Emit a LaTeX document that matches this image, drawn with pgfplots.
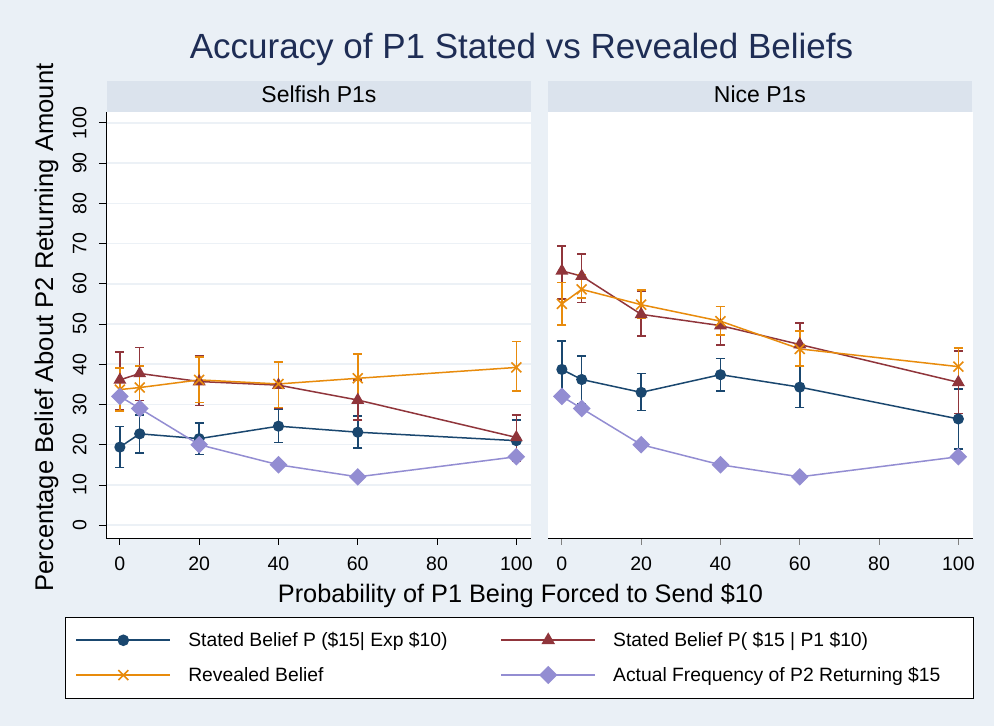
\documentclass[border=0pt]{standalone}
\usepackage{fontspec}
\setmainfont{Liberation Sans}
\usepackage{pgfplots}
\usepackage{pgfplotstable}
\pgfplotsset{compat=1.18}

\definecolor{bgcol}{RGB}{234,240,246}
\definecolor{stripcol}{RGB}{219,227,237}
\definecolor{gridcol}{RGB}{236,241,246}
\definecolor{snavy}{RGB}{26,71,111}
\definecolor{smaroon}{RGB}{144,53,59}
\definecolor{sorange}{RGB}{232,139,12}
\definecolor{slav}{RGB}{147,141,210}
\definecolor{titlecol}{RGB}{30,45,85}

% Selfish P1s
\pgfplotstableread{
x y lo hi
0 19.4 14.3 24.5
5 22.7 17.9 27.4
20 21.5 17.5 25.4
40 24.6 20.6 28.8
60 23.1 19.2 27.1
100 21.0 16.3 26.1
}\SnavyL
\pgfplotstableread{
x y lo hi
0 36.1 28.6 43.0
5 37.7 31.0 44.1
20 35.7 29.7 42.2
40 34.8 29.0 40.5
60 31.1 26.1 36.1
100 21.8 16.0 27.4
}\SmarL
\pgfplotstableread{
x y lo hi
0 33.7 28.4 39.1
5 34.2 29.4 39.6
20 36.1 30.5 41.8
40 35.1 29.2 40.6
60 36.5 30.6 42.5
100 39.2 33.3 45.7
}\SoraL
\pgfplotstableread{
x y
0 32
5 29
20 20
40 15
60 12
100 17
}\SlavL
% Nice P1s
\pgfplotstableread{
x y lo hi
0 38.7 31.8 45.8
5 36.2 30.1 42.0
20 33.0 28.5 37.7
40 37.4 33.3 41.4
60 34.3 29.2 39.4
100 26.4 18.9 33.8
}\SnavyR
\pgfplotstableread{
x y lo hi
0 63.2 56.2 69.4
5 61.9 55.3 67.4
20 52.4 47.0 58.2
40 49.6 44.8 54.4
60 44.9 39.6 50.2
100 35.5 27.7 43.3
}\SmarR
\pgfplotstableread{
x y lo hi
0 55.0 49.8 60.3
5 58.6 56.4 62.3
20 54.8 51.4 58.5
40 50.7 47.3 54.4
60 43.8 39.6 48.2
100 39.4 34.8 44.0
}\SoraR
\pgfplotstableread{
x y
0 32
5 29
20 20
40 15
60 12
100 17
}\SlavR

\pgfplotsset{
  panel/.style={
    scale only axis, width=425pt, height=426pt,
    xmin=-3.5, xmax=103.7, ymin=-3.2, ymax=102.7,
    axis background/.style={fill=white},
    xtick={0,20,40,60,80,100}, ytick={0,10,...,100},
    ymajorgrids, grid style={color=gridcol, line width=1.6pt},
    tick align=outside, major tick length=7pt,
    axis x line*=bottom,
    axis line style={line width=0.8pt, black, -},
    tick style={line width=0.8pt, black},
    /pgf/number format/assume math mode=true,
    tick label style={font=\fontsize{19.5}{22}\selectfont},
    xticklabel style={yshift=-8pt},
    yticklabel style={rotate=90, anchor=south, yshift=9pt},
    legend image code/.code={\draw[mark repeat=2,mark phase=2,#1,line width=1.9pt] plot coordinates {(0pt,0pt) (47pt,0pt) (94pt,0pt)};},
  },
  eb/.style={error bars/.cd, y dir=both, y explicit,
     error bar style={line width=1.5pt, solid, #1},
     error mark options={rotate=90, line width=1.5pt, mark size=4.5pt, #1}},
  snavyS/.style={color=snavy, line width=1.5pt, mark=*, mark size=4.8pt, mark options={solid, fill=snavy}},
  smarS/.style={color=smaroon, line width=1.5pt, mark=triangle*, mark size=6pt, mark options={solid, fill=smaroon}},
  soraS/.style={color=sorange, line width=1.5pt, mark=x, mark size=7pt, mark options={solid, line width=1.6pt}},
  slavS/.style={color=slav, line width=1.5pt, mark=square*, mark size=5.5pt, mark options={solid, fill=slav, rotate=45}},
}

\begin{document}
\begin{tikzpicture}[x=1pt,y=1pt]
\fill[bgcol] (0,0) rectangle (994,726);
\useasboundingbox (0,0) rectangle (994,726);
\fill[stripcol] (107,614) rectangle (531,645);
\fill[stripcol] (548,614) rectangle (972,645);
\node[anchor=base, font=\fontsize{23}{27}\selectfont] at (319,623) {Selfish P1s};
\node[anchor=base, font=\fontsize{23}{27}\selectfont] at (760,623) {Nice P1s};
\node[anchor=base, text=titlecol, font=\fontsize{35}{40}\selectfont] at (521.5,667) {Accuracy of P1 Stated vs Revealed Beliefs};
\node[rotate=90, anchor=base, font=\fontsize{25.6}{30}\selectfont] at (53,398.5) {Percentage Belief About P2 Returning Amount};
\node[anchor=base, font=\fontsize{25.3}{30}\selectfont] at (520.5,123) {Probability of P1 Being Forced to Send \$10};

\begin{axis}[panel, at={(106pt,188pt)}, anchor=south west, axis y line*=left,
  legend columns=2,
  legend style={at={(-0.0965,-0.1854)}, anchor=north west, draw=black, line width=0.8pt, fill=white,
    font=\fontsize{19.3}{22}\selectfont, inner xsep=10pt, inner ysep=13pt, row sep=15pt,
    /tikz/every odd column/.append style={column sep=15pt},
    /tikz/every even column/.append style={column sep=10pt}},
  legend cell align=left]
\addplot[snavyS, eb=snavy] table[x=x, y=y, y error plus expr=\thisrow{hi}-\thisrow{y}, y error minus expr=\thisrow{y}-\thisrow{lo}] {\SnavyL};
\addlegendentry{\makebox[300pt][l]{Stated Belief P (\$15| Exp \$10)}}
\addplot[smarS, eb=smaroon] table[x=x, y=y, y error plus expr=\thisrow{hi}-\thisrow{y}, y error minus expr=\thisrow{y}-\thisrow{lo}] {\SmarL};
\addlegendentry{\makebox[348pt][l]{Stated Belief P( \$15 | P1 \$10)}}
\addplot[soraS, eb=sorange] table[x=x, y=y, y error plus expr=\thisrow{hi}-\thisrow{y}, y error minus expr=\thisrow{y}-\thisrow{lo}] {\SoraL};
\addlegendentry{\makebox[300pt][l]{Revealed Belief}}
\addplot[slavS] table[x=x, y=y] {\SlavL};
\addlegendentry{\makebox[348pt][l]{Actual Frequency of P2 Returning \$15}}
\end{axis}

\begin{axis}[panel, at={(548pt,188pt)}, anchor=south west, axis y line=none,
  yticklabels={}, ytick style={draw=none}, xtick style={line width=0.8pt, gray}]
\addplot[snavyS, eb=snavy] table[x=x, y=y, y error plus expr=\thisrow{hi}-\thisrow{y}, y error minus expr=\thisrow{y}-\thisrow{lo}] {\SnavyR};
\addplot[smarS, eb=smaroon] table[x=x, y=y, y error plus expr=\thisrow{hi}-\thisrow{y}, y error minus expr=\thisrow{y}-\thisrow{lo}] {\SmarR};
\addplot[soraS, eb=sorange] table[x=x, y=y, y error plus expr=\thisrow{hi}-\thisrow{y}, y error minus expr=\thisrow{y}-\thisrow{lo}] {\SoraR};
\addplot[slavS] table[x=x, y=y] {\SlavR};
\end{axis}
\end{tikzpicture}
\end{document}
